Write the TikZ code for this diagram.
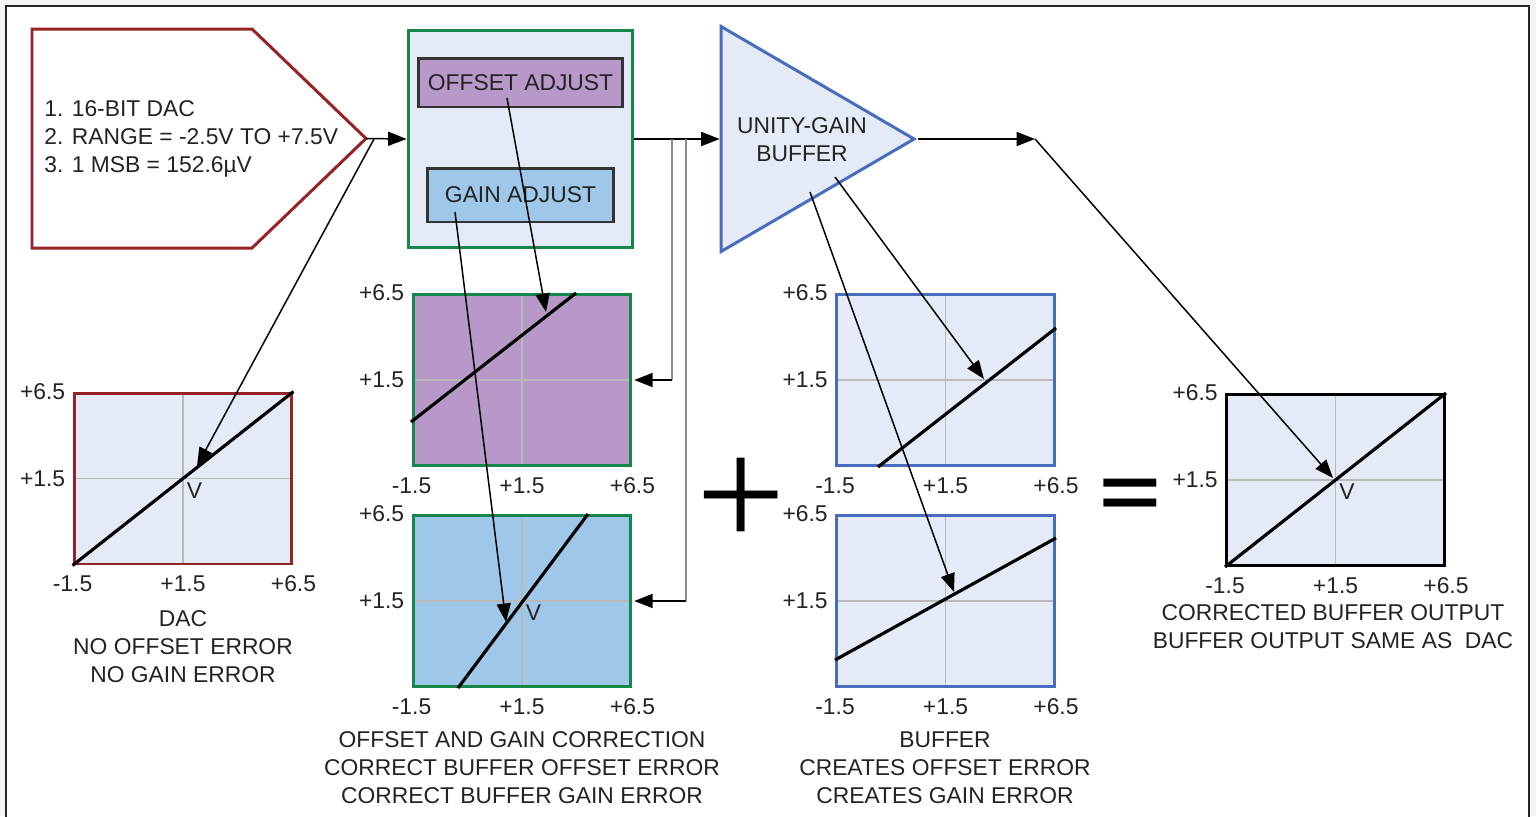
\documentclass[tikz,border=0pt]{standalone}
\usepackage{fontspec}
\setmainfont{Liberation Sans}
\newfontfamily\opfont{Liberation Serif}
\usepackage{tikz}
\usepackage{xcolor}
\usetikzlibrary{arrows.meta, shapes.geometric, positioning, calc}

\definecolor{dacred}{RGB}{150,35,38}
\definecolor{corrgreen}{RGB}{22,135,75}
\definecolor{bufblue}{RGB}{72,108,190}
\definecolor{paneltint}{RGB}{228,235,246}
\definecolor{offpurple}{RGB}{183,152,200}
\definecolor{gainblue}{RGB}{158,199,233}
\definecolor{gridgray}{RGB}{185,185,185}
\definecolor{tapgray}{RGB}{140,140,140}
\definecolor{inkgray}{RGB}{35,35,35}
\newcommand{\figfont}{\fontsize{13}{15.9}\selectfont}
\newcommand{\plotticks}[1]{%
    \node[tick, anchor=east, xshift=-3pt] (#1-y6) at (#1.north west) {+6.5};
    \node[tick, anchor=east, xshift=-3pt] (#1-y1) at (#1.west) {+1.5};
    \node[tick, anchor=north, yshift=-4.7pt] (#1-x0) at (#1.south west) {-1.5};
    \node[tick, anchor=north, yshift=-4.7pt] (#1-x1) at (#1.south) {+1.5};
    \node[tick, anchor=north, yshift=-4.7pt] (#1-x6) at (#1.south east) {+6.5};
}
\tikzset{
    panel/.style={draw, line width=1.7pt, fill=paneltint, minimum width=4.36cm, minimum height=3.42cm, inner sep=0pt,
        path picture={\draw[gridgray, line width=0.9pt]
            (path picture bounding box.north) -- (path picture bounding box.south)
            (path picture bounding box.west) -- (path picture bounding box.east);}},
    inbox/.style={draw=black!80, line width=1.7pt, inner sep=0pt},
    tick/.style={inner sep=1pt},
    caption/.style={align=center, inner sep=0pt},
    vmark/.style={inner sep=2pt},
    curve/.style={line width=1.8pt, black},
    pointer/.style={-{Triangle[length=10.5pt, width=8pt]}, line width=0.85pt, black},
    tapline/.style={line width=1.2pt, tapgray},
}

\begin{document}
\begin{tikzpicture}[x=0.02cm, y=-0.02cm, font=\figfont, text=inkgray]
    \useasboundingbox (0,0) rectangle (1536,816);
    \fill[black!4] (0,0) rectangle (1536,816);
    \fill[white] (6,6) rectangle (1529,816);
    \draw[line width=1.1pt, black!85] (6,830) -- (6,6) -- (1529,6) -- (1529,830);

    % Nodes
    \coordinate (dactip) at (366,138.5);
    \draw[dacred, line width=1.7pt, fill=white] (32,29) -- (252,29) -- (dactip) -- (252,248) -- (32,248) -- cycle;
    \node[align=left, anchor=west, inner sep=0pt] (dac) at (44,138.5)
          {1. 16-BIT DAC\\2. RANGE = -2.5V TO +7.5V\\3. 1 MSB = 152.6µV};
    \node[draw=corrgreen, fill=paneltint, line width=1.7pt, minimum width=4.5cm, minimum height=4.36cm] (corr) at (520.5,139) {};
    \node[inbox, fill=offpurple, minimum width=4.1cm, minimum height=0.98cm] (offadj) at (520.5,82.5) {OFFSET ADJUST};
    \node[inbox, fill=gainblue, minimum width=3.74cm, minimum height=1.08cm] (gainadj) at (520.5,195) {GAIN ADJUST};
    \node[isosceles triangle, isosceles triangle stretches, draw=bufblue, fill=paneltint, line width=1.7pt,
          inner sep=0pt, minimum width=4.5cm, minimum height=3.86cm, anchor=apex] (buf) at (918,139) {};
    \node[align=center, inner sep=0pt] (buftext) at (802,140) {UNITY-GAIN\\BUFFER};

    \node[panel, draw=dacred] (dacplot) at (183,478.5) {};
    \node[panel, draw=corrgreen, fill=offpurple] (offplot) at (522,380) {};
    \node[panel, draw=corrgreen, fill=gainblue] (gainplot) at (522,601) {};
    \node[panel, draw=bufblue] (bufoff) at (945.5,380) {};
    \node[panel, draw=bufblue] (bufgain) at (945.5,601) {};
    \node[panel, draw=black] (outplot) at (1335.5,480) {};

    \plotticks{dacplot}
    \plotticks{offplot}
    \plotticks{gainplot}
    \plotticks{bufoff}
    \plotticks{bufgain}
    \plotticks{outplot}

    % Curves
    \draw[curve] (dacplot.south west) -- (dacplot.north east);
    \draw[curve] (411,422) -- (576,293);
    \draw[curve] (458,688) -- (588,514);
    \draw[curve] (878,467) -- (1056,328);
    \draw[curve] (835,660) -- (1056,538);
    \draw[curve] (outplot.south west) -- (outplot.north east);

    \node[vmark, anchor=north west] (dacv) at (dacplot.center) {V};
    \node[vmark, anchor=north west] (gainv) at (gainplot.center) {V};
    \node[vmark, anchor=north west] (outv) at (outplot.center) {V};

    \node[text=black] (plus) at (741,503) {\opfont\fontsize{90}{90}\selectfont +};
    \node[text=black] (equals) at (1130,498) {\fontsize{40}{40}\selectfont\scalebox{1.5}[1.05]{\textbf{=}}};

    % Captions
    \node[caption] (daccap) at (183,646.5) {DAC\\NO OFFSET ERROR\\NO GAIN ERROR};
    \node[caption] (corrcap) at (522,768) {OFFSET AND GAIN CORRECTION\\CORRECT BUFFER OFFSET ERROR\\CORRECT BUFFER GAIN ERROR};
    \node[caption] (bufcap) at (945,768) {BUFFER\\CREATES OFFSET ERROR\\CREATES GAIN ERROR};
    \node[caption] (outcap) at (1333,627) {CORRECTED BUFFER OUTPUT\\BUFFER OUTPUT SAME AS~~DAC};

    % Edges
    \coordinate (dactap) at (374,139);
    \coordinate (tapA) at (672,139);
    \coordinate (tapB) at (686,139);
    \coordinate (turn) at (1035,139);
    \coordinate (offsrc) at (507,98);
    \coordinate (gainsrc) at (455,212);
    \coordinate (bufsrcA) at (835,177);
    \coordinate (bufsrcB) at (810,192);
    \coordinate (dacpt) at (197,466);
    \coordinate (offpt) at (546,312);
    \coordinate (gainpt) at (506,622);
    \coordinate (bufoffpt) at (984,379);
    \coordinate (bufgainpt) at (954,592);
    \coordinate (outpt) at (1333,478);

    \draw[pointer] (dactip) -- (corr.west);
    \draw[pointer] (corr.east) -- (buf.west);
    \draw[pointer] (buf.apex) -- (turn);
    \draw[tapline] (tapA) -- (tapA |- offplot.east);
    \draw[tapline] (tapB) -- (tapB |- gainplot.east);
    \draw[pointer, shorten >=1pt] (tapA |- offplot.east) -- (offplot.east);
    \draw[pointer, shorten >=1pt] (tapB |- gainplot.east) -- (gainplot.east);
    \draw[pointer] (dactap) -- (dacpt);
    \draw[pointer] (offsrc) -- (offpt);
    \draw[pointer] (gainsrc) -- (gainpt);
    \draw[pointer] (bufsrcA) -- (bufoffpt);
    \draw[pointer] (bufsrcB) -- (bufgainpt);
    \draw[pointer] (turn) -- (outpt);
\end{tikzpicture}
\end{document}
